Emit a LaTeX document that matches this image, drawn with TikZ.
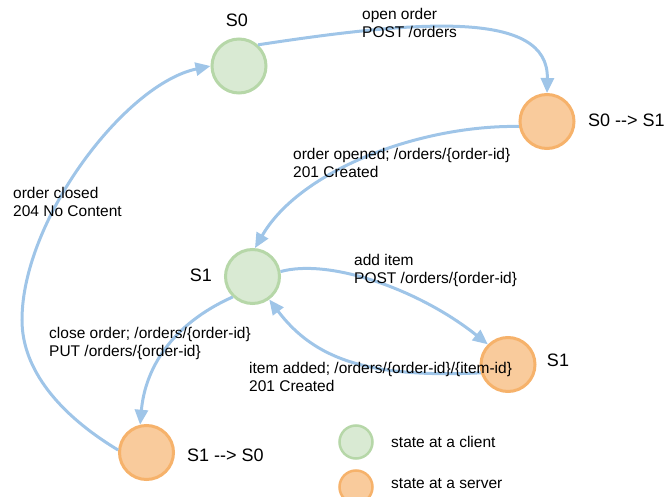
\documentclass[tikz,border=0pt]{standalone}
\usepackage{fontspec}
\setmainfont{Liberation Sans}
\usetikzlibrary{arrows.meta}
\definecolor{gfill}{HTML}{D9EAD3}
\definecolor{gline}{HTML}{B6D7A8}
\definecolor{ofill}{HTML}{F9CB9C}
\definecolor{oline}{HTML}{F6B26B}
\definecolor{eblue}{HTML}{9FC5E8}
\begin{document}
\begin{tikzpicture}[x=1pt,y=-1pt,
  client/.style={circle,draw=gline,fill=gfill,line width=3pt,minimum size=54pt,inner sep=0pt},
  server/.style={circle,draw=oline,fill=ofill,line width=3pt,minimum size=54pt,inner sep=0pt},
  legc/.style={circle,draw=gline,fill=gfill,line width=2.5pt,minimum size=33pt,inner sep=0pt},
  legs/.style={circle,draw=oline,fill=ofill,line width=2.5pt,minimum size=33pt,inner sep=0pt},
  stname/.style={font=\fontsize{18}{21}\selectfont,inner sep=0pt},
  elabel/.style={font=\fontsize{15.5}{18}\selectfont,align=left,anchor=west,inner sep=0pt},
  conn/.style={draw=eblue,line width=3pt,-{Triangle[length=15pt,width=13pt]}}]
\useasboundingbox (0,0) rectangle (670,497);
% states
\node[client] (s0c) at (239,66) {};
\node[server] (s01) at (547,121.5) {};
\node[client] (s1c) at (252.5,276.5) {};
\node[server] (s1s) at (508,364.5) {};
\node[server] (s10) at (146.5,452.5) {};
% state names
\node[stname] (n0) at (237,20) {S0};
\node[stname,anchor=west] (n01) at (588,120) {S0 -\kern0pt-> S1};
\node[stname] (n1c) at (201,275) {S1};
\node[stname] (n1s) at (558,360) {S1};
\node[stname,anchor=west] (n10) at (187,455) {S1 -\kern0pt-> S0};
% connectors
\draw[conn] (s0c.48) .. controls (420,20) and (549,10) .. (s01.90);
\draw[conn] (s01.190) .. controls (420,125) and (300,170) .. (s1c.85);
\draw[conn] (s1c.10) .. controls (330,258) and (420,290) .. (s1s.135);
\draw[conn] (s1s.197) .. controls (370,378) and (315,360) .. (s1c.-54);
\draw[conn] (s1c.226) .. controls (170,325) and (145,370) .. (s10.103);
\draw[conn] (s10.175) .. controls (60,415) and (22,370) .. (22,320)
  .. controls (22,220) and (125,84) .. (s0c.180);
% connector labels
\node[elabel] (l1) at (362,23) {open order\\POST /orders};
\node[elabel] (l2) at (293,163) {order opened; /orders/\{order-id\}\\201 Created};
\node[elabel] (l3) at (354,270) {add item\\POST /orders/\{order-id\}};
\node[elabel] (l4) at (249,377) {item added; /orders/\{order-id\}/\{item-id\}\\201 Created};
\node[elabel] (l5) at (49,343) {close order; /orders/\{order-id\}\\PUT /orders/\{order-id\}};
\node[elabel] (l6) at (13,202) {order closed\\204 No Content};
% legend
\node[legc] (lc) at (356,442) {};
\node[legs] (ls) at (356,487) {};
\node[elabel] (lct) at (391,442) {state at a client};
\node[elabel] (lst) at (391,484) {state at a server};
\end{tikzpicture}
\end{document}
